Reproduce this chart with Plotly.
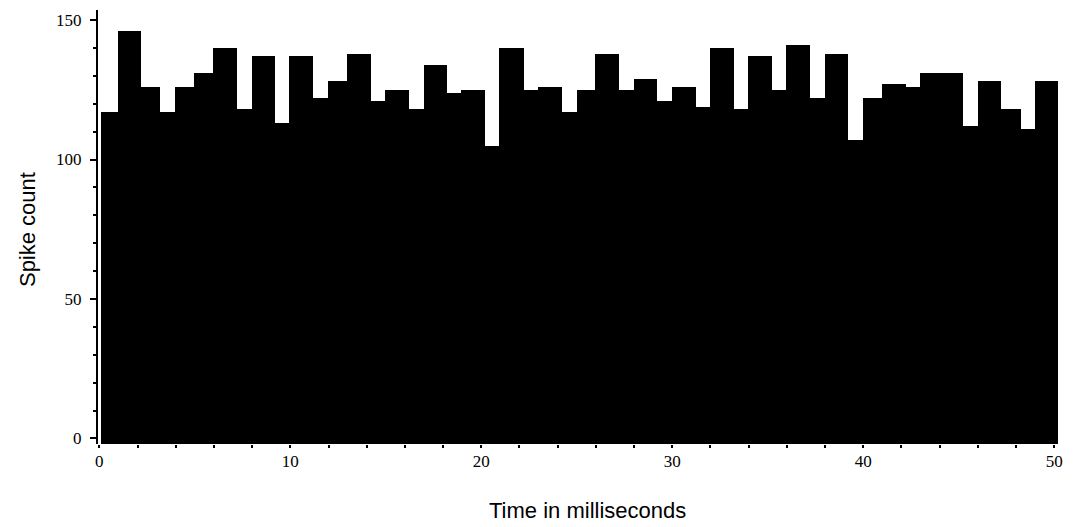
import numpy as np
import plotly.graph_objects as go

# Bin edges of the spike-time histogram (milliseconds)
bin_edges = [0.09, 0.96, 2.18, 3.19, 3.97, 4.98, 5.97, 7.19, 7.98, 9.20,
             9.94, 11.20, 11.95, 12.99, 14.21, 14.94, 16.21, 16.98, 18.20, 18.95,
             20.20, 20.95, 22.22, 22.95, 24.21, 24.99, 25.97, 27.22, 27.97, 29.22,
             29.97, 31.23, 31.98, 33.24, 33.98, 35.23, 35.98, 37.23, 38.02, 39.20,
             39.98, 40.98, 42.25, 42.98, 44.10, 45.21, 45.99, 47.21, 48.24, 48.99,
             50.21]

# Spike counts per bin
spike_counts = [117, 146, 126, 117, 126, 131, 140, 118, 137, 113,
                137, 122, 128, 138, 121, 125, 118, 134, 124, 125,
                105, 140, 125, 126, 117, 125, 138, 125, 129, 121,
                126, 119, 140, 118, 137, 125, 141, 122, 138, 107,
                122, 127, 126, 131, 131, 112, 128, 118, 111, 128]

x_tick_values = [0, 10, 20, 30, 40, 50]
y_tick_values = [0, 50, 100, 150]

x_title = "Time in milliseconds"
y_title = "Spike count"

x_range = [-0.07, 50.25]
y_range = [-2.0, 153.6]

edges = np.array(bin_edges)
centers = (edges[:-1] + edges[1:]) / 2
widths = np.diff(edges)
counts = np.array(spike_counts, dtype=float)
floor = y_range[0]

fig = go.Figure(
    go.Bar(
        x=centers,
        y=counts - floor,
        base=floor,
        width=widths,
        marker=dict(color="#000000", line=dict(width=0)),
        hoverinfo="skip",
    )
)

tick_font = dict(family="Liberation Serif, Times New Roman, serif", size=17, color="#000000")
title_font = dict(family="Liberation Sans, Arial, Helvetica, sans-serif", size=22, color="#000000")

fig.update_layout(
    width=1073,
    height=527,
    margin=dict(l=98, r=12, t=10, b=83),
    paper_bgcolor="white",
    plot_bgcolor="white",
    bargap=0,
    showlegend=False,
    xaxis=dict(
        range=x_range,
        tickvals=x_tick_values,
        ticks="outside",
        ticklen=3,
        tickwidth=2,
        tickcolor="#000000",
        tickfont=tick_font,
        ticklabelstandoff=-1,
        minor=dict(dtick=2, tick0=0, ticks="outside", ticklen=3, tickwidth=2, tickcolor="#000000", showgrid=False),
        showline=False,
        showgrid=False,
        zeroline=False,
        fixedrange=True,
    ),
    yaxis=dict(
        range=y_range,
        tickvals=y_tick_values,
        ticks="outside",
        ticklen=6,
        tickwidth=2,
        tickcolor="#000000",
        tickfont=tick_font,
        ticklabelstandoff=5,
        minor=dict(dtick=10, tick0=0, ticks="outside", ticklen=3, tickwidth=2, tickcolor="#000000", showgrid=False),
        showline=True,
        linewidth=2,
        linecolor="#000000",
        showgrid=False,
        zeroline=False,
        fixedrange=True,
    ),
    annotations=[
        dict(text=x_title, xref="paper", yref="paper", x=0.509, y=0, yshift=-66,
             xanchor="center", yanchor="middle", showarrow=False, font=title_font),
        dict(text=y_title, xref="paper", yref="paper", x=0, y=0.493, xshift=-71,
             xanchor="center", yanchor="middle", textangle=-90, showarrow=False, font=title_font),
    ],
)

fig.write_html("out.html")
